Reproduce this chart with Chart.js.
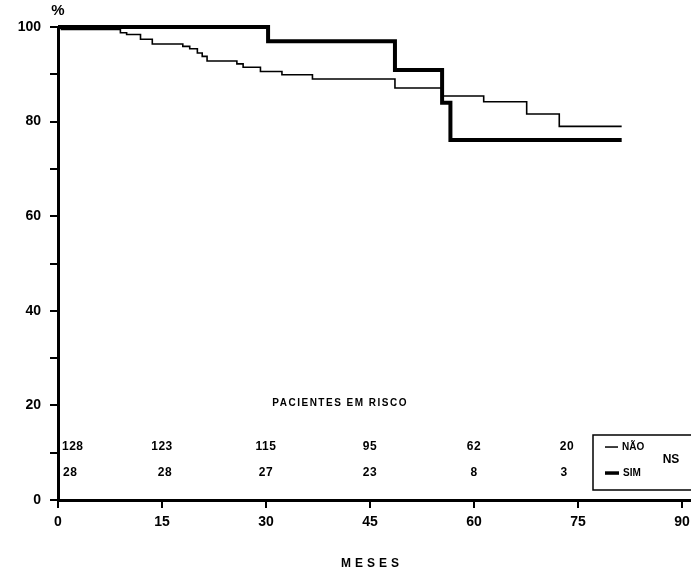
<!DOCTYPE html>
<html>
<head>
<meta charset="utf-8">
<script src="https://cdn.jsdelivr.net/npm/chart.js@4"></script>
<style>
  html, body { margin: 0; padding: 0; background: #fff; }
  canvas { display: block; }
</style>
</head>
<body>
<canvas id="c" width="691" height="576"></canvas>
<script>
// ---- data ----
const naoTimes = [0, 0.5, 9.0, 9.9, 11.9, 13.6, 18.0, 19.0, 20.1, 20.8, 21.5, 25.8, 26.7, 29.2, 32.3, 36.7, 48.6, 55.4, 61.4, 67.6, 72.3, 81.3];
const naoSurv  = [100, 99.5, 98.8, 98.4, 97.4, 96.4, 95.9, 95.4, 94.5, 93.8, 92.8, 92.2, 91.5, 90.6, 89.9, 89.0, 87.1, 85.4, 84.2, 81.6, 79.0, 79.0];
const simTimes = [0, 30.3, 48.6, 55.4, 56.6, 81.3];
const simSurv  = [100, 97.0, 90.9, 84.0, 76.1, 76.1];

const xTickValues = [0, 15, 30, 45, 60, 75, 90];
const yTickValues = [0, 10, 20, 30, 40, 50, 60, 70, 80, 90, 100];
const yLabelValues = [0, 20, 40, 60, 80, 100];

const riskTimes = [0, 15, 30, 45, 60, 75];
const riskNao = [128, 123, 115, 95, 62, 20];
const riskSim = [28, 28, 27, 23, 8, 3];

const seriesNames = ['NÃO', 'SIM'];
const riskTitle = 'PACIENTES EM RISCO';
const xTitle = 'MESES';
const yUnit = '%';
const testLabel = 'NS';

const FONT = '"Liberation Sans", Arial, sans-serif';

const toPoints = (t, v) => t.map((x, i) => ({ x: x, y: v[i] }));

const annotations = {
  id: 'annotations',
  afterDraw(chart) {
    const ctx = chart.ctx;
    const xs = chart.scales.x, ys = chart.scales.y;
    const px = v => xs.getPixelForValue(v);
    const py = v => ys.getPixelForValue(v);
    ctx.save();
    ctx.fillStyle = '#000';
    ctx.strokeStyle = '#000';
    ctx.textBaseline = 'middle';

    // % unit label above axis
    ctx.font = 'bold 15px ' + FONT;
    ctx.textAlign = 'center';
    ctx.fillText(yUnit, px(0), py(100) - 16);

    // risk table title
    ctx.font = 'bold 10px ' + FONT;
    ctx.letterSpacing = '1.5px';
    ctx.fillText(riskTitle, px(40.7), py(20.5));

    // risk numbers
    ctx.font = 'bold 12px ' + FONT;
    ctx.letterSpacing = '0.5px';
    const rowNao = py(11.2), rowSim = py(5.7);
    riskTimes.forEach((t, i) => {
      let x = px(t);
      if (i === 0) { ctx.textAlign = 'left'; x += 4; }
      else if (i === riskTimes.length - 1) { ctx.textAlign = 'center'; x -= 11; }
      else { ctx.textAlign = 'center'; }
      ctx.fillText(String(riskNao[i]), x, rowNao);
      let x2 = x;
      if (i === riskTimes.length - 1) x2 = px(t) - 14;
      if (i === 0) x2 = px(t) + 5;
      if (i === 1) x2 = px(t) + 3;
      ctx.fillText(String(riskSim[i]), x2, rowSim);
    });

    // legend box
    ctx.letterSpacing = '0px';
    const bx = 593, by = 435, bw = 120, bh = 55;
    ctx.lineWidth = 1.5;
    ctx.strokeRect(bx, by, bw, bh);
    ctx.beginPath();
    ctx.lineWidth = 1.5;
    ctx.moveTo(605, rowNao); ctx.lineTo(618, rowNao);
    ctx.stroke();
    ctx.beginPath();
    ctx.lineWidth = 3.5;
    ctx.moveTo(605, rowSim); ctx.lineTo(619, rowSim);
    ctx.stroke();
    ctx.font = 'bold 10px ' + FONT;
    ctx.textAlign = 'left';
    ctx.fillText(seriesNames[0], 622, rowNao);
    ctx.fillText(seriesNames[1], 623, rowSim);
    ctx.font = 'bold 12px ' + FONT;
    ctx.textAlign = 'center';
    ctx.fillText(testLabel, 671, (rowNao + rowSim) / 2);

    // x axis title
    ctx.font = 'bold 12px ' + FONT;
    ctx.letterSpacing = '4px';
    ctx.textAlign = 'center';
    ctx.fillText(xTitle, 372, 564);
    ctx.restore();
  }
};

new Chart(document.getElementById('c'), {
  type: 'line',
  data: {
    datasets: [
      {
        label: seriesNames[0],
        data: toPoints(naoTimes, naoSurv),
        borderColor: '#000',
        borderWidth: 1.6,
        stepped: 'before',
        pointRadius: 0,
        fill: false,
        clip: false
      },
      {
        label: seriesNames[1],
        data: toPoints(simTimes, simSurv),
        borderColor: '#000',
        borderWidth: 4,
        stepped: 'before',
        pointRadius: 0,
        fill: false,
        clip: false
      }
    ]
  },
  options: {
    responsive: false,
    animation: false,
    devicePixelRatio: 1,
    layout: { padding: { top: 27, right: 0, left: 0, bottom: 0 } },
    plugins: { legend: { display: false }, tooltip: { enabled: false }, title: { display: false } },
    scales: {
      x: {
        type: 'linear',
        min: 0,
        max: 91.3,
        afterBuildTicks: s => { s.ticks = xTickValues.map(v => ({ value: v })); },
        afterFit: s => { s.height = 76; s.paddingLeft = 0; s.paddingRight = 0; },
        ticks: {
          color: '#000',
          font: { family: FONT, size: 14, weight: 'bold' },
          padding: 6,
          maxRotation: 0,
          autoSkip: false,
          callback: v => String(v)
        },
        grid: { display: true, drawOnChartArea: false, drawTicks: true, tickLength: 8, color: '#000', lineWidth: 2 },
        border: { display: true, color: '#000', width: 3 }
      },
      y: {
        type: 'linear',
        min: 0,
        max: 100,
        afterBuildTicks: s => { s.ticks = yTickValues.map(v => ({ value: v })); },
        afterFit: s => { s.width = 58; s.paddingTop = 0; s.paddingBottom = 0; },
        ticks: {
          color: '#000',
          font: { family: FONT, size: 14, weight: 'bold' },
          padding: 9,
          autoSkip: false,
          callback: v => (yLabelValues.includes(v) ? String(v) : '')
        },
        grid: { display: true, drawOnChartArea: false, drawTicks: true, tickLength: 8, color: '#000', lineWidth: 2 },
        border: { display: true, color: '#000', width: 3 }
      }
    }
  },
  plugins: [annotations]
});
</script>
</body>
</html>
